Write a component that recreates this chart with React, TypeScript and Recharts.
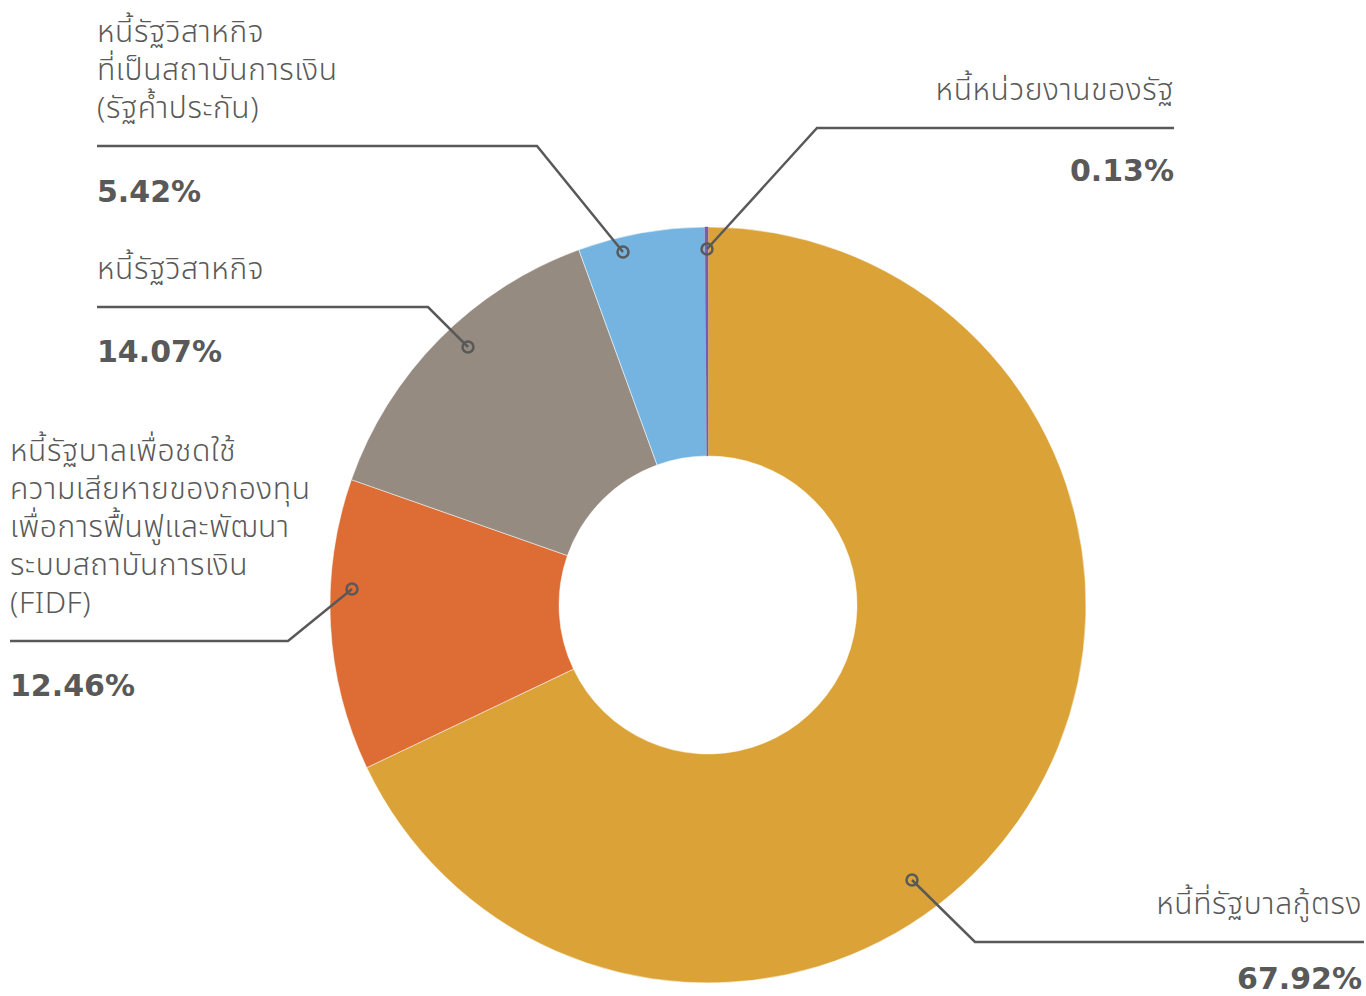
import { Cell, Pie, PieChart } from "recharts";

const categories = [
  ["หนี้ที่รัฐบาลกู้ตรง"],
  ["หนี้รัฐบาลเพื่อชดใช้", "ความเสียหายของกองทุน", "เพื่อการฟื้นฟูและพัฒนา", "ระบบสถาบันการเงิน", "(FIDF)"],
  ["หนี้รัฐวิสาหกิจ"],
  ["หนี้รัฐวิสาหกิจ", "ที่เป็นสถาบันการเงิน", "(รัฐค้ำประกัน)"],
  ["หนี้หน่วยงานของรัฐ"],
];

const shares = [67.92, 12.46, 14.07, 5.42, 0.13];

const colors = ["#DBA337", "#DE6D35", "#968B80", "#75B4E0", "#7A5CA8"];

// label placement: dot offset from centre, elbow, horizontal rule, text side
const labelLayout = [
  { dot: [204, 275], elbowX: 975, lineY: 942, endX: 1364, textX: 1362, anchor: "end", pctGap: 47 },
  { dot: [-356, -16], elbowX: 288, lineY: 641, endX: 10, textX: 10, anchor: "start", pctGap: 55 },
  { dot: [-240, -258], elbowX: 428, lineY: 307, endX: 97, textX: 97, anchor: "start", pctGap: 55 },
  { dot: [-85, -353], elbowX: 537, lineY: 146, endX: 97, textX: 97, anchor: "start", pctGap: 56 },
  { dot: [-1, -356], elbowX: 817, lineY: 128, endX: 1174, textX: 1174, anchor: "end", pctGap: 53 },
];

const data = categories.map((lines, i) => ({
  name: lines.join(" "),
  lines,
  value: shares[i],
}));

const INK = "#595959";
const THAI_FONT = "'Noto Sans Thai', 'Noto Sans Thai UI', 'Noto Sans', sans-serif";

function SliceLabel(props: any) {
  const { cx, cy, index } = props;
  const layout = labelLayout[index];
  const item = data[index];
  const dx = cx + layout.dot[0];
  const dy = cy + layout.dot[1];
  const lineHeight = 38;
  const firstBaseline = layout.lineY - 28 - lineHeight * (item.lines.length - 1);

  return (
    <g>
      <polyline
        points={`${dx},${dy} ${layout.elbowX},${layout.lineY} ${layout.endX},${layout.lineY}`}
        fill="none"
        stroke={INK}
        strokeWidth={2.5}
      />
      <circle cx={dx} cy={dy} r={5.5} fill="none" stroke={INK} strokeWidth={2.5} />
      <text
        x={layout.textX}
        y={firstBaseline}
        textAnchor={layout.anchor}
        fill={INK}
        fontFamily={THAI_FONT}
        fontWeight={300}
        fontSize={30}
        letterSpacing={0.6}
      >
        {item.lines.map((line, i) => (
          <tspan key={i} x={layout.textX} y={firstBaseline + i * lineHeight}>
            {line}
          </tspan>
        ))}
      </text>
      <text
        x={layout.textX}
        y={layout.lineY + layout.pctGap}
        textAnchor={layout.anchor}
        fill={INK}
        fontFamily="'DejaVu Sans', Verdana, sans-serif"
        fontWeight={700}
        fontSize={30}
      >
        {item.value.toFixed(2)}%
      </text>
    </g>
  );
}

export default function App() {
  return (
    <div style={{ position: "absolute", left: 0, top: 0, width: 1366, height: 996, background: "#fff" }}>
      <PieChart width={1366} height={996} margin={{ top: 0, right: 0, bottom: 0, left: 0 }}>
        <Pie
          data={data}
          dataKey="value"
          nameKey="name"
          cx={708}
          cy={605}
          innerRadius={149}
          outerRadius={378}
          startAngle={90}
          endAngle={-270}
          strokeWidth={0.5}
          label={SliceLabel}
          labelLine={false}
          isAnimationActive={false}
        >
          {data.map((d, i) => (
            <Cell key={d.name} fill={colors[i]} stroke={i === data.length - 1 ? colors[i] : "#fff"} />
          ))}
        </Pie>
      </PieChart>
    </div>
  );
}
